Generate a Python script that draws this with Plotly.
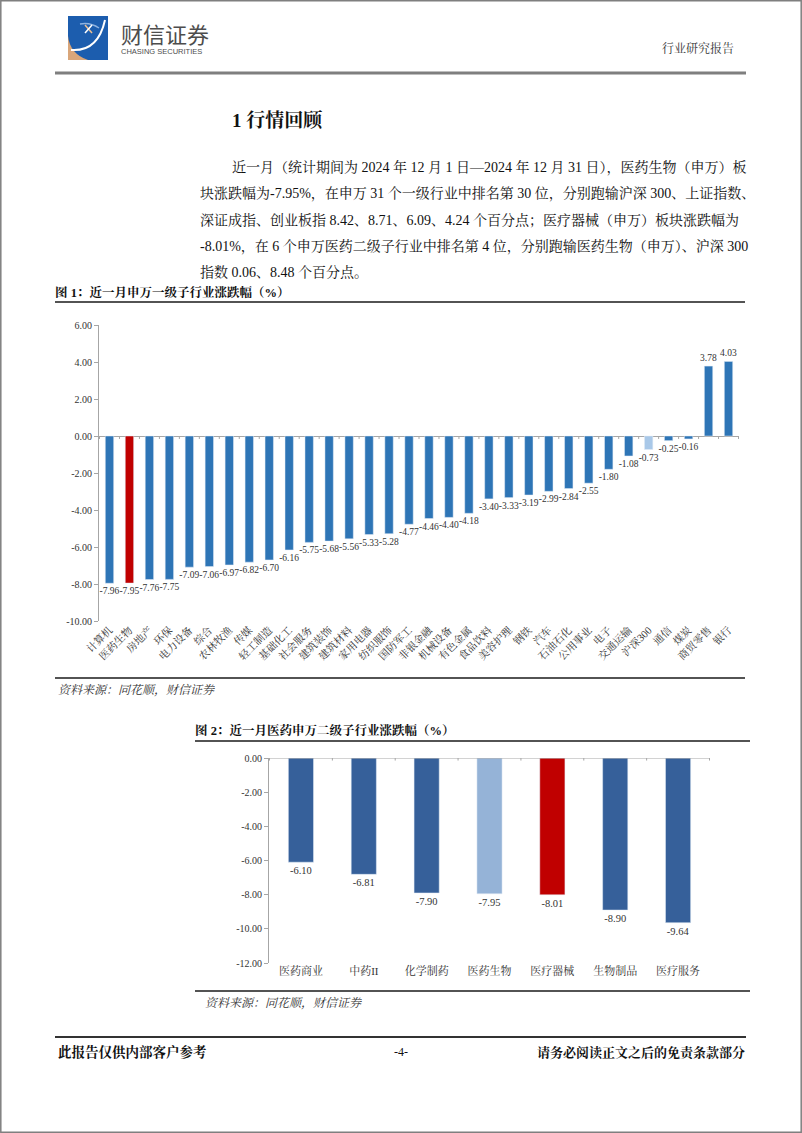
import plotly.graph_objects as go

W, H = 802, 1133

# ---------------- data ----------------
cats1 = ["计算机", "医药生物", "房地产", "环保", "电力设备", "综合", "农林牧渔", "传媒",
         "轻工制造", "基础化工", "社会服务", "建筑装饰", "建筑材料", "家用电器", "纺织服饰",
         "国防军工", "非银金融", "机械设备", "有色金属", "食品饮料", "美容护理", "钢铁",
         "汽车", "石油石化", "公用事业", "电子", "交通运输", "沪深300", "通信", "煤炭",
         "商贸零售", "银行"]
vals1 = [-7.96, -7.95, -7.76, -7.75, -7.09, -7.06, -6.97, -6.82, -6.70, -6.16, -5.75,
         -5.68, -5.56, -5.33, -5.28, -4.77, -4.46, -4.40, -4.18, -3.40, -3.33, -3.19,
         -2.99, -2.84, -2.55, -1.80, -1.08, -0.73, -0.25, -0.16, 3.78, 4.03]
yticks1 = [6, 4, 2, 0, -2, -4, -6, -8, -10]

cats2 = ["医药商业", "中药II", "化学制药", "医药生物", "医疗器械", "生物制品", "医疗服务"]
vals2 = [-6.10, -6.81, -7.90, -7.95, -8.01, -8.90, -9.64]
yticks2 = [0, -2, -4, -6, -8, -10, -12]

para_lines = [
    "近一月（统计期间为 2024 年 12 月 1 日—2024 年 12 月 31 日），医药生物（申万）板",
    "块涨跌幅为-7.95%，在申万 31 个一级行业中排名第 30 位，分别跑输沪深 300、上证指数、",
    "深证成指、创业板指 8.42、8.71、6.09、4.24 个百分点；医疗器械（申万）板块涨跌幅为",
    "-8.01%，在 6 个申万医药二级子行业中排名第 4 位，分别跑输医药生物（申万）、沪深 300",
    "指数 0.06、8.48 个百分点。",
]

# ---------------- styles ----------------
BLUE1, RED, LIGHT1 = "#2E75B6", "#C00000", "#A9C8E8"
BLUE2, LIGHT2 = "#36609A", "#95B3D7"
AXC = "#A6A6A6"
SERIF = "'Liberation Serif', 'Noto Serif CJK SC', 'Noto Sans CJK SC', serif"
SANS = "'Noto Sans CJK SC', 'Liberation Sans', sans-serif"

colors1 = [RED if c == "医药生物" else LIGHT1 if c == "沪深300" else BLUE1 for c in cats1]
colors2 = [RED if c == "医疗器械" else LIGHT2 if c == "医药生物" else BLUE2 for c in cats2]


def fx(x):
    return x / W


def fy(y):
    return 1 - y / H


fig = go.Figure()
fig.add_trace(go.Bar(
    x=cats1, y=vals1, marker_color=colors1, width=0.42,
    text=[f"{v:.2f}" for v in vals1], textposition="outside", textangle=0,
    constraintext="none", cliponaxis=False,
    textfont=dict(family=SERIF, size=9.5, color="#333333"),
    xaxis="x", yaxis="y", hoverinfo="skip", showlegend=False))
fig.add_trace(go.Bar(
    x=cats2, y=vals2, marker_color=colors2, width=0.40,
    text=[f"{v:.2f}" for v in vals2], textposition="outside", textangle=0,
    constraintext="none", cliponaxis=False,
    textfont=dict(family=SERIF, size=10.5, color="#333333"),
    xaxis="x2", yaxis="y2", hoverinfo="skip", showlegend=False))
fig.add_trace(go.Scatter(x=[0], y=[0], mode="markers", marker=dict(opacity=0),
                         xaxis="x3", yaxis="y3", hoverinfo="skip", showlegend=False))

fig.update_layout(
    width=W, height=H, margin=dict(l=0, r=0, t=0, b=0),
    paper_bgcolor="white", plot_bgcolor="rgba(0,0,0,0)",
    font=dict(family=SERIF, color="#333333"),
    xaxis=dict(domain=[fx(99), fx(739)], anchor="y", type="category",
               tickangle=-45, tickfont=dict(family=SERIF, size=10.5, color="#333"),
               showline=False, ticks="", showgrid=False, zeroline=False,
               automargin=False, fixedrange=True),
    yaxis=dict(domain=[fy(621), fy(325)], anchor="x", range=[-10, 6],
               tickvals=yticks1, ticktext=[f"{v:.2f}" for v in yticks1],
               tickfont=dict(family=SERIF, size=10, color="#333"),
               showline=True, linecolor=AXC, linewidth=1, ticks="outside",
               ticklen=4, tickcolor=AXC, showgrid=False,
               zeroline=True, zerolinecolor=AXC, zerolinewidth=1,
               automargin=False, fixedrange=True),
    xaxis2=dict(domain=[fx(269), fx(710)], anchor="y2", type="category",
                tickangle=0, tickfont=dict(family=SERIF, size=11, color="#333"),
                showline=False, ticks="", showgrid=False, zeroline=False,
                automargin=False, fixedrange=True),
    yaxis2=dict(domain=[fy(963), fy(758)], anchor="x2", range=[-12, 0],
                tickvals=yticks2, ticktext=[f"{v:.2f}" for v in yticks2],
                tickfont=dict(family=SERIF, size=10, color="#333"),
                showline=True, linecolor=AXC, linewidth=1, ticks="outside",
                ticklen=4, tickcolor=AXC, showgrid=False, zeroline=False,
                automargin=False, fixedrange=True),
    xaxis3=dict(domain=[0, 1], anchor="y3", range=[0, W], visible=False, fixedrange=True),
    yaxis3=dict(domain=[0, 1], anchor="x3", range=[H, 0], visible=False, fixedrange=True),
)

shapes = []


def pline(x0, y0, x1, y1, color, width):
    shapes.append(dict(type="line", xref="x3", yref="y3", x0=x0, y0=y0, x1=x1, y1=y1,
                       line=dict(color=color, width=width)))


# page border and rules
shapes.append(dict(type="rect", xref="x3", yref="y3", x0=0.8, y0=0.8, x1=W - 0.8, y1=H - 0.8,
                   line=dict(color="#7F7F7F", width=1.5)))
pline(55, 73, 746, 73, "#7F7F7F", 3)
pline(55, 302, 745, 302, "#1A1A1A", 1.5)
pline(55, 678, 745, 678, "#1A1A1A", 1.5)
pline(195, 741, 750, 741, "#1A1A1A", 1.5)
pline(195, 991, 750, 991, "#1A1A1A", 1.5)
pline(55, 1037, 746, 1037, "#333333", 2)

# logo
shapes.append(dict(type="path", xref="x3", yref="y3",
                   path="M68,34 L68,60 L96,60 Z", fillcolor="#D9A67A", line=dict(width=0)))
shapes.append(dict(type="path", xref="x3", yref="y3",
                   path="M68,16 L108,16 L108,60 L88,60 Q70,54 68,36 Z",
                   fillcolor="#1C5DAE", line=dict(width=0)))
shapes.append(dict(type="path", xref="x3", yref="y3",
                   path="M71,50 Q98,52 105,20", fillcolor="rgba(0,0,0,0)",
                   line=dict(color="white", width=2)))
shapes.append(dict(type="path", xref="x3", yref="y3",
                   path="M80,24 Q90,22 99,28", fillcolor="rgba(0,0,0,0)",
                   line=dict(color="#8FB3E0", width=1.5)))
pline(85, 25, 92, 33, "#F0C090", 1.5)
pline(92, 25, 85, 33, "white", 1.5)

# category ticks on zero lines
for i in range(len(cats1) + 1):
    shapes.append(dict(type="line", xref="x", yref="y", x0=i - 0.5, x1=i - 0.5, y0=0, y1=-0.16,
                       line=dict(color=AXC, width=1)))
shapes.append(dict(type="line", xref="x2", yref="y2", x0=-0.5, x1=len(cats2) - 0.5, y0=0, y1=0,
                   line=dict(color=AXC, width=1)))
for i in range(len(cats2) + 1):
    shapes.append(dict(type="line", xref="x2", yref="y2", x0=i - 0.5, x1=i - 0.5, y0=0, y1=-0.15,
                       line=dict(color=AXC, width=1)))

fig.update_layout(shapes=shapes)

ann = []


def text(x, y, s, size, color="#222222", family=SERIF, xanchor="left"):
    ann.append(dict(xref="x3", yref="y3", x=x, y=y, text=s, showarrow=False,
                    xanchor=xanchor, yanchor="middle",
                    font=dict(family=family, size=size, color=color)))


text(119, 33, "财信证券", 22, "#4D4D4D", SANS)
text(119, 51, "CHASING SECURITIES", 7.5, "#4D4D4D", "'Liberation Sans', Arial, sans-serif")
text(736, 48, "行业研究报告", 12, "#333333", SERIF, "right")
text(230, 120, "<b>1 行情回顾</b>", 19, "#111111")
line_y = [167, 193, 220, 246, 272]
for i, (s, yy) in enumerate(zip(para_lines, line_y)):
    text(230 if i == 0 else 198, yy, s, 14, "#111111")
text(53, 292, "<b>图 1：近一月申万一级子行业涨跌幅（%）</b>", 12.5, "#111111")
text(56, 690, "<i>资料来源：同花顺，财信证券</i>", 12, "#333333")
text(193, 730, "<b>图 2：近一月医药申万二级子行业涨跌幅（%）</b>", 12.5, "#111111")
text(203, 1003, "<i>资料来源：同花顺，财信证券</i>", 12, "#333333")
text(56, 1052, "<b>此报告仅供内部客户参考</b>", 13.5, "#111111")
text(401, 1052, "-4-", 12, "#111111", SERIF, "center")
text(747, 1052, "<b>请务必阅读正文之后的免责条款部分</b>", 13, "#111111", SERIF, "right")

fig.update_layout(annotations=ann)

fig.write_html("out.html", config={"displayModeBar": False},
               post_script="document.body.style.margin='0';document.body.style.overflow='hidden';")
